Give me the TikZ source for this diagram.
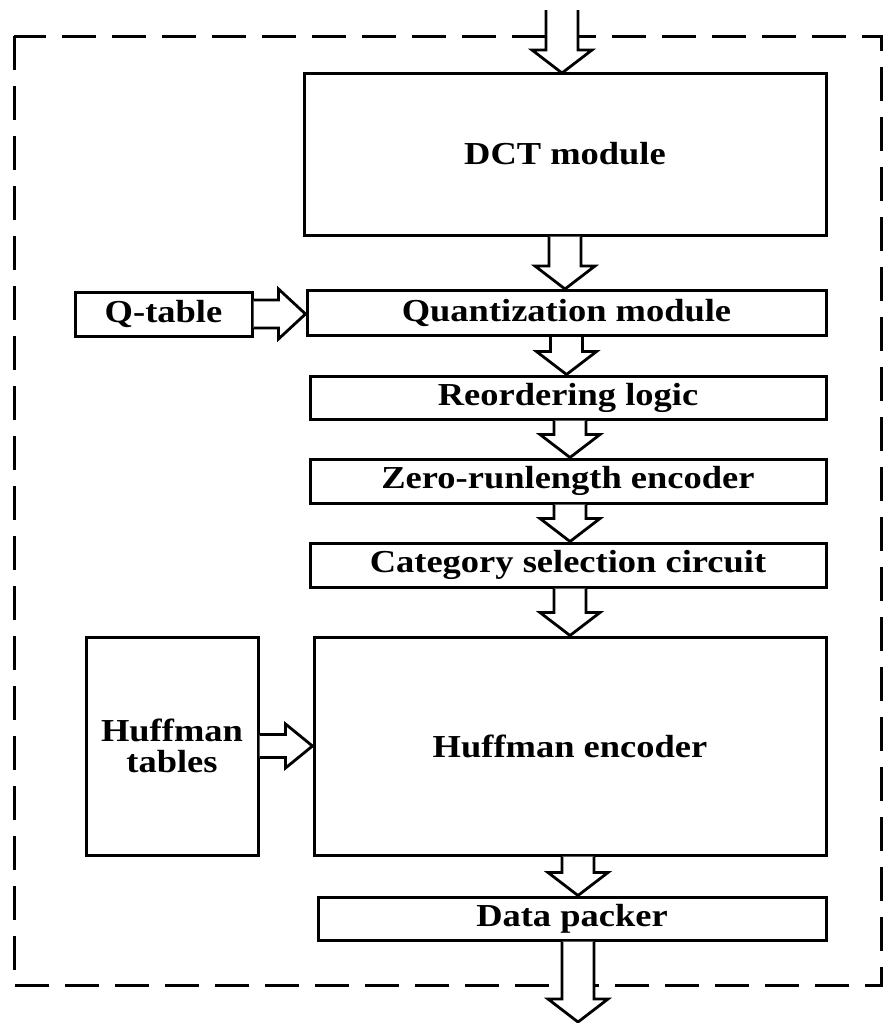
\documentclass[tikz,border=0pt]{standalone}
\usepackage{fontspec}
\setmainfont{Liberation Serif}[FakeStretch=1.14]
\usetikzlibrary{calc}
\tikzset{
  blk/.style={draw, line width=3pt, inner sep=0pt, font=\fontsize{32}{31}\selectfont\bfseries, align=center},
  barrow/.style={draw, line width=2.8pt, line join=miter, fill=white},
  frame/.style={draw, line width=3pt, dash pattern=on 34pt off 16pt}
}
\newcommand{\hdown}[2]{%
  \path[barrow] let \p1=(#1), \p2=(#2) in
   (\x1-16,\y1) -- (\x1-16,\y2+23) -- (\x1-30,\y2+23) -- (\x1,\y2) --
   (\x1+30,\y2+23) -- (\x1+16,\y2+23) -- (\x1+16,\y1);}
\newcommand{\hright}[4]{% from, to, shaft half, head half
  \path[barrow] let \p1=(#1), \p2=(#2) in
   (\x1,\y1+#3) -- (\x2-27,\y1+#3) -- (\x2-27,\y1+#4) -- (\x2,\y1) --
   (\x2-27,\y1-#4) -- (\x2-27,\y1-#3) -- (\x1,\y1-#3);}
\begin{document}
\begin{tikzpicture}[x=1pt,y=-1pt]
\useasboundingbox (0,0) rectangle (889,1023);
\draw[frame] (14,36) rectangle (881,985);
% boxes
\node[blk, minimum width=522pt, minimum height=162pt] (dct) at (565,154) {DCT module};
\node[blk, minimum width=519pt, minimum height=45pt] (quant) at (566.5,313) {Quantization module};
\node[blk, minimum width=177pt, minimum height=44pt] (qtab) at (163.5,314) {Q-table};
\node[blk, minimum width=516pt, minimum height=43pt] (reord) at (568,397.5) {Reordering logic};
\node[blk, minimum width=516pt, minimum height=44pt] (zero) at (568,481) {Zero-runlength encoder};
\node[blk, minimum width=516pt, minimum height=44pt] (cat) at (568,565) {Category selection circuit};
\node[blk, minimum width=512pt, minimum height=218pt] (huff) at (570,746) {Huffman encoder};
\node[blk, minimum width=172pt, minimum height=218pt] (htab) at (172,746) {Huffman\\tables};
\node[blk, minimum width=508pt, minimum height=43pt] (pack) at (572,918.5) {Data packer};
\coordinate (in) at (562,10);
\coordinate (inend) at (562,73);
\coordinate (out) at (578,1022);
% arrows
\hdown{in}{inend}
\hdown{$(dct.south)+(0,0)$}{$(quant.north)$}
\hdown{$(quant.south)$}{$(reord.north)$}
\hdown{$(reord.south)+(2,0)$}{$(zero.north)+(2,0)$}
\hdown{$(zero.south)+(2,0)$}{$(cat.north)+(2,0)$}
\hdown{$(cat.south)+(2,0)$}{$(huff.north)$}
\hdown{$(huff.south)+(8,0)$}{$(pack.north)+(6,0)$}
\hdown{$(pack.south)+(6,0)$}{out}
\hright{qtab.east}{quant.west}{14}{25}
\hright{htab.east}{huff.west}{11.5}{22}
\end{tikzpicture}
\end{document}
